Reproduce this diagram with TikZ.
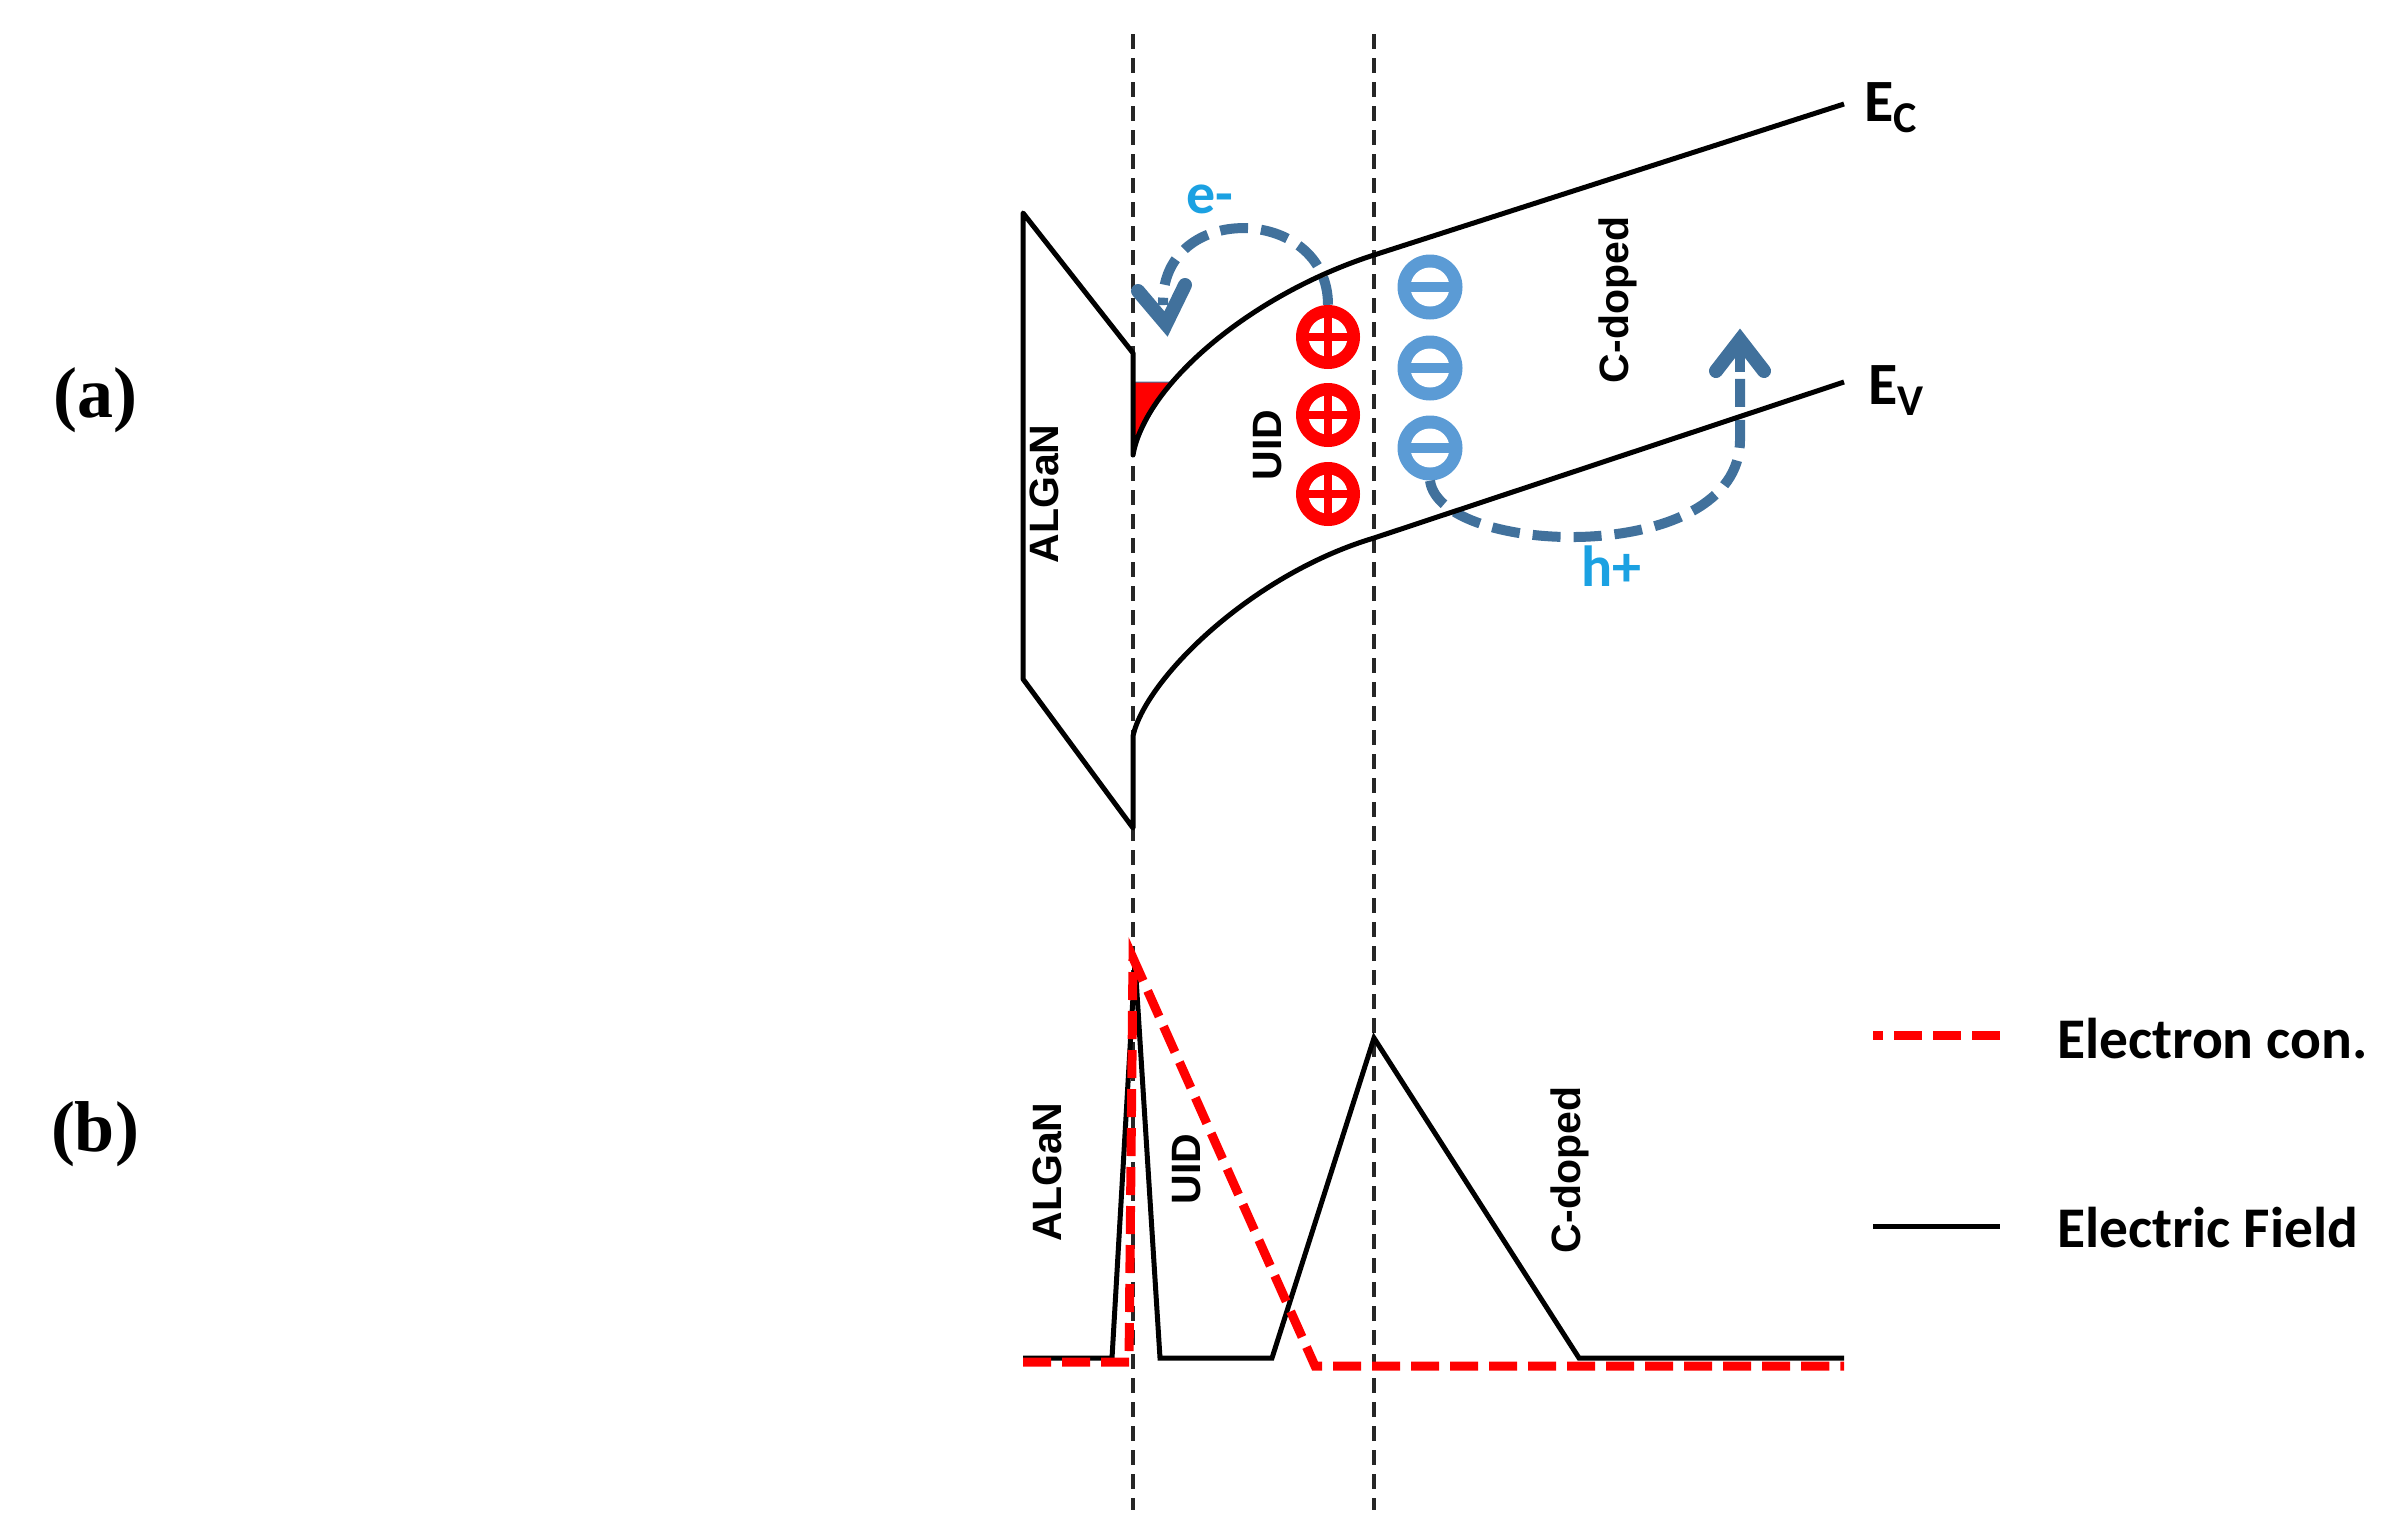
\documentclass[tikz,border=0pt]{standalone}
\usepackage{fontspec}
\newfontfamily\calfont{Carlito}
\newfontfamily\arifont{Liberation Sans}
\newfontfamily\panelfont{Liberation Serif}
\definecolor{flowblue}{HTML}{41719C}
\definecolor{chargeblue}{HTML}{5B9BD5}
\definecolor{labelcyan}{HTML}{1BA1E2}
\definecolor{chargered}{HTML}{FF0000}
\begin{document}
\begin{tikzpicture}[x=1pt,y=-1pt,
  band/.style={line width=5pt, line join=round},
  guide/.style={line width=3.2pt, draw=black!85, dash pattern=on 15pt off 9pt},
  flow/.style={line width=10pt, draw=flowblue, dash pattern=on 28pt off 13pt},
  chevron/.style={line width=14pt, draw=flowblue, line cap=round, line join=miter, miter limit=4},
  field/.style={line width=5pt, line join=miter},
  conc/.style={line width=9pt, draw=chargered, dash pattern=on 28pt off 11pt, line join=miter},
  layer/.style={font=\arifont\bfseries\fontsize{41}{41}\selectfont, rotate=90, inner sep=0pt},
  carrier/.style={font=\calfont\bfseries\fontsize{58}{58}\selectfont, text=labelcyan, inner sep=0pt},
  bandlabel/.style={font=\calfont\bfseries\fontsize{60}{60}\selectfont, anchor=base west, inner sep=0pt},
  legendtext/.style={font=\calfont\bfseries\fontsize{57.5}{57.5}\selectfont, anchor=west, inner sep=0pt},
  panel/.style={font=\panelfont\bfseries\fontsize{72}{72}\selectfont, inner sep=0pt},
  pluscharge/.style={circle, fill=chargered, minimum size=64pt, inner sep=0pt,
    path picture={
      \fill[white] (path picture bounding box.center) circle (19.5pt);
      \fill[chargered] ([shift={(-21pt,-3.8pt)}]path picture bounding box.center) rectangle ([shift={(21pt,3.8pt)}]path picture bounding box.center);
      \fill[chargered] ([shift={(-3.8pt,-21pt)}]path picture bounding box.center) rectangle ([shift={(3.8pt,21pt)}]path picture bounding box.center);
    }},
  minuscharge/.style={circle, fill=chargeblue, minimum size=65pt, inner sep=0pt,
    path picture={
      \fill[white] (path picture bounding box.center) circle (19.5pt);
      \fill[chargeblue] ([shift={(-21pt,-4.8pt)}]path picture bounding box.center) rectangle ([shift={(21pt,4.8pt)}]path picture bounding box.center);
    }}
]
\useasboundingbox (0,0) rectangle (2404,1532);

% panel labels
\node[panel] (pa) at (95,400) {(a)};
\node[panel] (pb) at (95,1134) {(b)};

% vertical guide lines
\coordinate (g1t) at (1133,34);
\coordinate (g1b) at (1133,1510);
\coordinate (g2t) at (1374,34);
\coordinate (g2b) at (1374,1510);
\draw[guide] (g1t) -- (g1b);
\draw[guide] (g2t) -- (g2b);

% ---------------- (a) band diagram ----------------
\coordinate (ecEnd) at (1844,104);
\coordinate (ecKnee) at (1374,255);
\coordinate (ecTip) at (1133,455);
\coordinate (alTopR) at (1133,353);
\coordinate (alTopL) at (1023,213);
\coordinate (alBotL) at (1023,679);
\coordinate (alBotR) at (1133,828);
\coordinate (evTip) at (1133,736);
\coordinate (evKnee) at (1374,538);
\coordinate (evEnd) at (1844,382);

% 2DEG triangle
\fill[chargered, draw=flowblue, line width=1pt] (1133,382) -- (1171,382) .. controls (1156,404) and (1141,430) .. (ecTip) -- cycle;

% charges
\node[pluscharge] (p1) at (1328,337) {};
\node[pluscharge] (p2) at (1328,415) {};
\node[pluscharge] (p3) at (1328,494) {};
\node[minuscharge] (m1) at (1430,287) {};
\node[minuscharge] (m2) at (1430,368) {};
\node[minuscharge] (m3) at (1430,448) {};

% carrier paths
\coordinate (eEnd) at (1163,305);
\coordinate (eTip) at (1166,324);
\coordinate (eArmL) at (1138,291);
\coordinate (eArmR) at (1185,285);
\draw[flow] (p1.north) .. controls (1328,205) and (1160,200) .. (eEnd);
\draw[chevron] (eArmL) -- (eTip) -- (eArmR);

\coordinate (hEnd) at (1740,378);
\coordinate (hTip) at (1740,340);
\coordinate (hArmL) at (1716,371);
\coordinate (hArmR) at (1764,371);
\draw[flow] (m3.south) .. controls (1440,557) and (1740,567) .. (1740,440) -- (hEnd);
\draw[chevron] (hArmL) -- (hTip) -- (hArmR);
\draw[line width=10pt, draw=flowblue] (hTip) -- (1740,372);

% bands
\draw[band] (ecEnd) -- (ecKnee) .. controls (1250,295) and (1145,385) .. (ecTip)
  -- (alTopR) -- (alTopL) -- (alBotL) -- (alBotR) -- (evTip)
  .. controls (1145,680) and (1250,575) .. (evKnee) -- (evEnd);

% labels (a)
\node[bandlabel] (ec) at (1864,121) {E\raisebox{-11pt}{\fontsize{44}{44}\selectfont C}};
\node[bandlabel] (ev) at (1868,404) {E\raisebox{-11pt}{\fontsize{44}{44}\selectfont V}};
\node[carrier] (elab) at (1210,199) {e-};
\node[carrier] (hlab) at (1611,566) {h+};
\node[layer] (alA) at (1044,494) {ALGaN};
\node[layer] (uidA) at (1268,445) {UID};
\node[layer] (cdA) at (1618,300) {C-doped};

% ---------------- (b) field / concentration ----------------
\coordinate (f0) at (1023,1358);
\coordinate (f1) at (1112,1358);
\coordinate (f2) at (1135,962);
\coordinate (f3) at (1160,1358);
\coordinate (f4) at (1272,1358);
\coordinate (f5) at (1374,1038);
\coordinate (f6) at (1579,1358);
\coordinate (f7) at (1844,1358);
\draw[field] (f0) -- (f1) -- (f2) -- (f3) -- (f4) -- (f5) -- (f6) -- (f7);

\coordinate (c0) at (1023,1362);
\coordinate (c1) at (1129,1362);
\coordinate (c2) at (1133,958);
\coordinate (c3) at (1315,1366);
\coordinate (c4) at (1844,1366);
\draw[conc] (c0) -- (c1) -- (c2) -- (c3) -- (c4);

\node[layer] (alB) at (1047,1172) {ALGaN};
\node[layer] (uidB) at (1187,1169) {UID};
\node[layer] (cdB) at (1570,1170) {C-doped};

% legend
\coordinate (lr0) at (1873,1035);
\coordinate (lr1) at (2000,1035);
\coordinate (lk0) at (1873,1226);
\coordinate (lk1) at (2000,1226);
\draw[conc, dash phase=18pt] (lr0) -- (lr1);
\draw[field] (lk0) -- (lk1);
\node[legendtext] (lt1) at (2057,1039) {Electron con.};
\node[legendtext] (lt2) at (2057,1228) {Electric Field};
\end{tikzpicture}
\end{document}
